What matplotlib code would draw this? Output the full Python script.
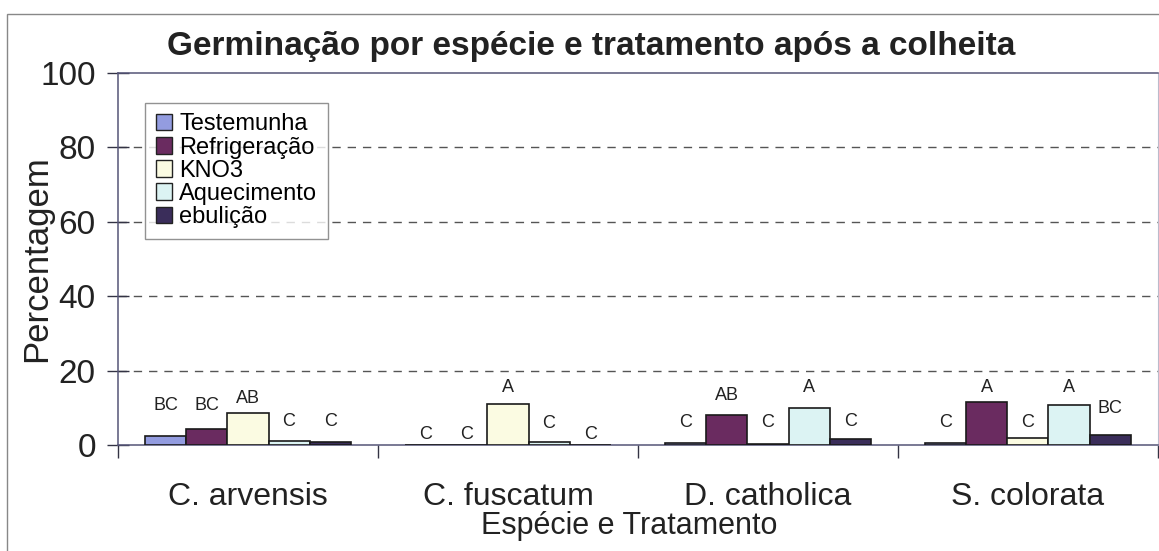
import matplotlib
matplotlib.use("Agg")
import matplotlib.pyplot as plt
import matplotlib.patches as mpatches
import numpy as np

plt.rcParams['font.family'] = ['Liberation Sans', 'DejaVu Sans']

# Data
species = ['C. arvensis', 'C. fuscatum', 'D. catholica', 'S. colorata']
treatments = ['Testemunha', 'Refrigeração', 'KNO3', 'Aquecimento', 'ebulição']
germination = [
    [2.5, 0.0, 0.5, 0.5],    # Testemunha
    [4.3, 0.0, 8.0, 11.5],   # Refrigeração
    [8.6, 11.0, 0.3, 1.8],   # KNO3
    [1.1, 0.8, 10.0, 10.8],  # Aquecimento
    [0.8, 0.0, 1.5, 2.8],    # ebulição
]
letters = [
    ['BC', 'C', 'C', 'C'],
    ['BC', 'C', 'AB', 'A'],
    ['AB', 'A', 'C', 'C'],
    ['C', 'C', 'A', 'A'],
    ['C', 'C', 'C', 'BC'],
]
# height of each letter
letter_y = [
    [10.5, 2.7, 6.0, 6.0],
    [10.5, 2.7, 13.2, 15.4],
    [12.4, 15.4, 6.0, 6.0],
    [6.2, 5.9, 15.4, 15.4],
    [6.2, 2.7, 6.2, 9.7],
]
colors = ['#939ce0', '#6a2b60', '#fbfbe2', '#dcf3f3', '#3a2d5a']

# Init
fig = plt.figure(figsize=(11.59, 5.51), dpi=100)
ax = fig.add_axes([0.1018, 0.1924, 0.8973, 0.6751])

x = np.arange(len(species))
w = 0.158
for i, (vals, col) in enumerate(zip(germination, colors)):
    pos = x + (i - 2) * w
    ax.bar(pos, vals, width=w, color=col, edgecolor='#1a1a1a', lw=1.2, zorder=3)
    for p, lab, ly in zip(pos, letters[i], letter_y[i]):
        ax.text(p, ly, lab, ha='center', va='center', fontsize=13, color='#222222', zorder=4)

ax.set_xlim(-0.5, 3.5)
ax.set_ylim(0, 100)
ax.set_yticks(range(0, 101, 20))
ax.tick_params(axis='y', direction='inout', length=16, width=1, labelsize=24, pad=8,
               colors='#333344', labelcolor='#222222')
ax.set_xticks(x)
ax.set_xticklabels(species, fontsize=23, color='#222222')
ax.tick_params(axis='x', length=0, pad=27)
ax.set_xticks(np.arange(-0.5, 4.0, 1.0), minor=True)
ax.tick_params(axis='x', which='minor', direction='out', length=9, width=1, color='#333344')

# Gridlines
for yv in range(20, 100, 20):
    ax.axhline(yv, color='#555555', lw=1, ls=(0, (6, 5)), zorder=1)

for s in ['left', 'bottom', 'top']:
    ax.spines[s].set_color('#555577')
    ax.spines[s].set_linewidth(1.1)
ax.spines['right'].set_color('#bbbbcc')

# Labels
ax.set_ylabel('Percentagem', fontsize=25, color='#222222')
ax.yaxis.set_label_coords(-0.062, 0.5)
ax.set_xlabel('Espécie e Tratamento', fontsize=22, color='#222222')
ax.xaxis.set_label_coords(0.492, -0.177)
fig.text(0.510, 0.915, 'Germinação por espécie e tratamento após a colheita',
         ha='center', va='center', fontsize=24, fontweight='bold', color='#222222')

# Legend
handles = [mpatches.Patch(facecolor=c, edgecolor='#222222', label=t) for c, t in zip(colors, treatments)]
leg = ax.legend(handles=handles, loc='upper left', bbox_to_anchor=(0.026, 0.92),
                fontsize=17, frameon=True, fancybox=False, handlelength=0.7, handleheight=0.7,
                handletextpad=0.3, labelspacing=0.05, borderpad=0.45, borderaxespad=0)
leg.get_frame().set_edgecolor('#777777')
leg.get_frame().set_linewidth(1)
leg.set_zorder(5)

# Outer border of the chart area
fig.patches.append(mpatches.Rectangle((7 / 1159, -0.05), 1.1, 1 - 14 / 551 + 0.05,
                                      transform=fig.transFigure, fill=False,
                                      edgecolor='#888888', lw=1))

plt.savefig('out.png', dpi=100)
